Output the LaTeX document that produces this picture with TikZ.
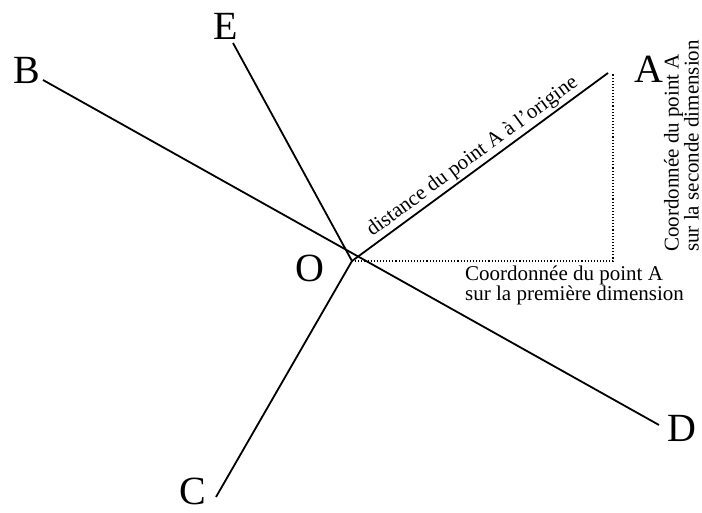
\documentclass[tikz,border=0pt]{standalone}
\usepackage{fontspec}
\setmainfont{Liberation Serif}
\usetikzlibrary{positioning}

\begin{document}
\begin{tikzpicture}[
    x=1pt, y=-1pt,
    axe/.style={line width=1.8pt},
    proj/.style={line width=1.1pt, dotted},
    lettre/.style={font=\fontsize{40}{40}\selectfont, inner sep=0pt},
    ann/.style={font=\fontsize{21}{17}\selectfont, inner sep=0pt, align=left},
]
\useasboundingbox (0,0) rectangle (702,513);

% Points
\coordinate (O) at (352,261);
\coordinate (A) at (608,73);
\coordinate (B) at (43,80);
\coordinate (C) at (216,497);
\coordinate (D) at (659,425);
\coordinate (E) at (233,43);
\coordinate (P) at (613,261);
\coordinate (Q) at (613,73);

% Axes
\draw[axe] (B) -- (D);
\draw[axe] (C) -- (O);
\draw[axe] (O) -- (E);
\draw[axe] (O) -- (A)
    node[pos=0.5, above=2pt, sloped, ann] {distance du point A à l'origine};

% Projections
\draw[proj] (O) -- (P) -- (Q);

% Labels
\node[lettre] (lA) at (649,69) {A};
\node[lettre] (lB) at (27,70) {B};
\node[lettre] (lC) at (193,491) {C};
\node[lettre] (lD) at (682,428) {D};
\node[lettre] (lE) at (226,26) {E};
\node[lettre] (lO) at (310,268) {O};

\node[ann, anchor=north west] (c1) at (465,266)
    {Coordonnée du point A\\sur la première dimension};
\node[ann, font=\fontsize{21}{15}\selectfont, anchor=south west, rotate=90]
    (c2) at (699,252) {Coordonnée du point A\\sur la seconde dimension};

\end{tikzpicture}
\end{document}
